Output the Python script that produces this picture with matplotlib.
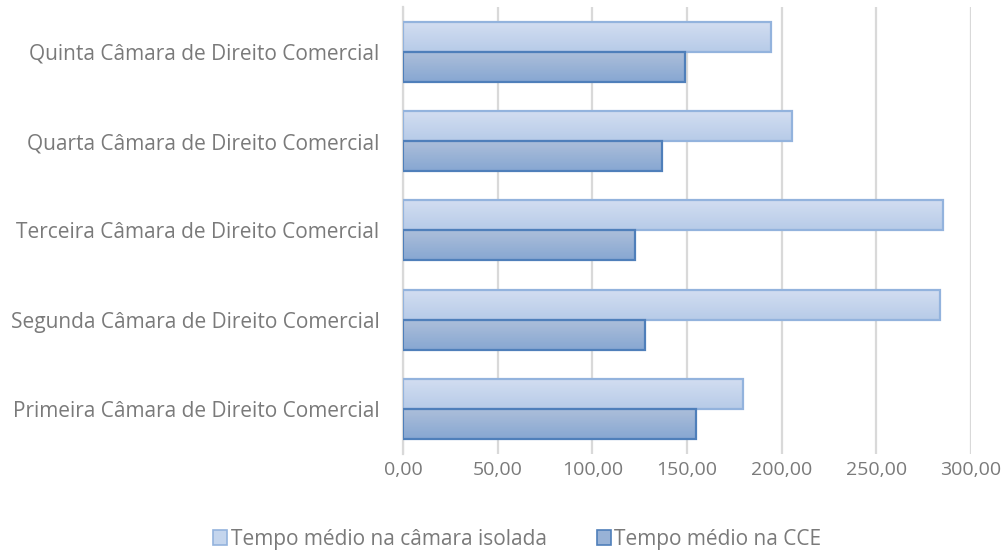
import numpy as np
import matplotlib
matplotlib.use("Agg")
import matplotlib.pyplot as plt
from matplotlib.colors import LinearSegmentedColormap
from matplotlib.patches import Patch

# Tempo médio por câmara (dias)
camaras = ["Primeira Câmara de Direito Comercial",
           "Segunda Câmara de Direito Comercial",
           "Terceira Câmara de Direito Comercial",
           "Quarta Câmara de Direito Comercial",
           "Quinta Câmara de Direito Comercial"]
isolada = [179.8, 283.8, 285.3, 205.5, 194.4]
cce = [154.8, 127.8, 122.6, 136.8, 149.0]
xticks = [0, 50, 100, 150, 200, 250, 300]
serie_nomes = ["Tempo médio na câmara isolada", "Tempo médio na CCE"]

plt.rcParams['font.family'] = ['Open Sans', 'DejaVu Sans']
cinza = '#7a7a7a'

fig = plt.figure(figsize=(10.06, 5.54), dpi=100)
ax = fig.add_axes([0.4006, 0.181, 0.5646, 0.806])

light_cmap = LinearSegmentedColormap.from_list('l', ['#d3def1', '#b7cbe8'])
dark_cmap = LinearSegmentedColormap.from_list('d', ['#adbfda', '#87a7d2'])
grad = np.linspace(0, 1, 64).reshape(-1, 1)

y = np.arange(len(camaras))
h = 0.336


def gradient_bars(ypos, vals, cmap, edge):
    bars = ax.barh(ypos, vals, height=h, color='none', edgecolor=edge,
                   linewidth=1.6, zorder=3)
    for b in bars:
        x0, y0 = b.get_x(), b.get_y()
        im = ax.imshow(grad, cmap=cmap, aspect='auto', zorder=2.5,
                       extent=(x0, x0 + b.get_width(), y0, y0 + b.get_height()),
                       origin='upper')
        im.set_clip_path(b)
    return bars


gradient_bars(y + h / 2, isolada, light_cmap, '#93b3dd')
gradient_bars(y - h / 2, cce, dark_cmap, '#4f7fba')

ax.set_xlim(0, 300)
ax.set_ylim(-0.5, len(camaras) - 0.5)
ax.set_xticks(xticks)
ax.set_xticklabels(["%d,00" % v for v in xticks])
ax.set_yticks(y)
ax.set_yticklabels(camaras)
ax.tick_params(axis='both', length=0, colors=cinza)
ax.tick_params(axis='x', pad=5, labelsize=14)
ax.tick_params(axis='y', pad=17, labelsize=15)
ax.xaxis.grid(True, color='#d9d9d9', linewidth=1.6, zorder=0)
ax.set_axisbelow(True)
for s in ['top', 'right', 'bottom']:
    ax.spines[s].set_visible(False)
ax.spines['left'].set_color('#d9d9d9')
ax.spines['left'].set_linewidth(1.6)

handles = [Patch(facecolor='#c4d5ed', edgecolor='#93b3dd', linewidth=1.2),
           Patch(facecolor='#98b2d6', edgecolor='#4f7fba', linewidth=1.2)]
fig.legend(handles, serie_nomes, loc='center', bbox_to_anchor=(0.514, 0.027),
           ncol=2, frameon=False, fontsize=15, labelcolor=cinza,
           handlelength=0.7, handleheight=0.7, handletextpad=0.15,
           columnspacing=2.4)

fig.savefig('out.png', dpi=100)
